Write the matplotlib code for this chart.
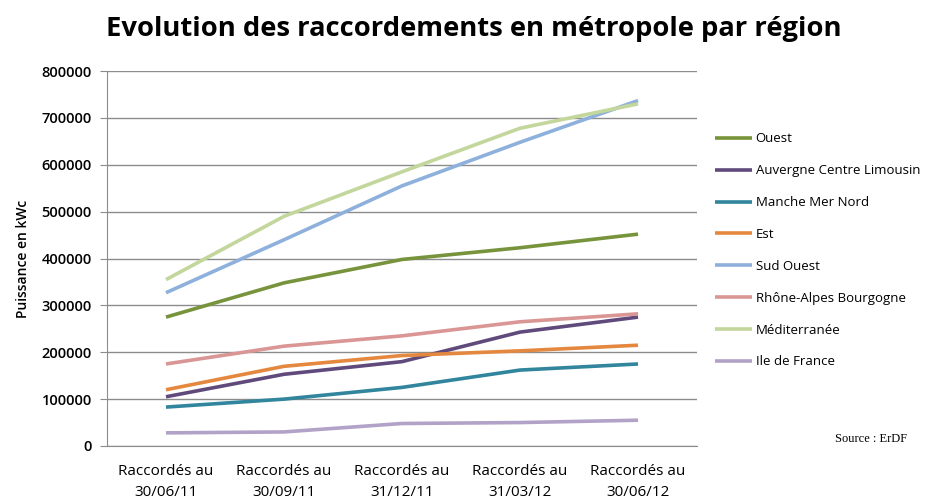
import matplotlib
matplotlib.use("Agg")
import matplotlib.pyplot as plt

categories = ["Raccordés au\n30/06/11", "Raccordés au\n30/09/11", "Raccordés au\n31/12/11",
              "Raccordés au\n31/03/12", "Raccordés au\n30/06/12"]
ouest = [275000, 348000, 398000, 423000, 452000]
auvergne = [105000, 153000, 180000, 243000, 275000]
manche = [83000, 100000, 125000, 162000, 175000]
est = [120000, 170000, 193000, 203000, 215000]
sud_ouest = [327000, 440000, 555000, 648000, 737000]
rhone = [175000, 213000, 235000, 265000, 282000]
mediterranee = [355000, 490000, 585000, 678000, 730000]
idf = [28000, 30000, 48000, 50000, 55000]

series = [
    ("Ouest", ouest, "#77933C"),
    ("Auvergne Centre Limousin", auvergne, "#604A7B"),
    ("Manche Mer Nord", manche, "#31859C"),
    ("Est", est, "#E5883F"),
    ("Sud Ouest", sud_ouest, "#8EB0DC"),
    ("Rhône-Alpes Bourgogne", rhone, "#D99694"),
    ("Méditerranée", mediterranee, "#C3D69B"),
    ("Ile de France", idf, "#B3A2C7"),
]

plt.rcParams['font.family'] = ['Open Sans', 'DejaVu Sans']
fig = plt.figure(figsize=(9.36, 5.01), dpi=100)
ax = fig.add_axes([0.1143, 0.1098, 0.6304, 0.7484])

x = list(range(len(categories)))
for name, vals, col in series:
    ax.plot(x, vals, color=col, linewidth=2.6, label=name, solid_capstyle='butt')

ax.set_xlim(-0.5, len(categories) - 0.5)
ax.set_ylim(0, 800000)
ax.set_yticks(range(0, 800001, 100000))
ax.set_yticklabels([str(v) for v in range(0, 800001, 100000)], fontsize=10.5, fontweight='semibold')
ax.set_xticks(x)
ax.set_xticklabels(categories, fontsize=11, fontweight='normal', linespacing=1.5)
ax.grid(axis='y', color='#8c8c8c', linewidth=1)
ax.set_axisbelow(True)
for s in ['top', 'right']:
    ax.spines[s].set_visible(False)
for s in ['left', 'bottom']:
    ax.spines[s].set_color('#8c8c8c')
ax.tick_params(axis='y', length=5, color='#8c8c8c', pad=6)
ax.tick_params(axis='x', length=0, pad=13)
ax.set_ylabel("Puissance en kWc", fontsize=10, fontweight='semibold', labelpad=8)

fig.suptitle("Evolution des raccordements en métropole par région", x=0.506, y=0.968,
             fontsize=19.7, fontweight='bold')

leg = ax.legend(loc='upper left', bbox_to_anchor=(1.01, 0.868), frameon=False,
                fontsize=9.5, handlelength=2.8, handletextpad=0.3, labelspacing=1.43)

fig.text(0.892, 0.117, "Source : ErDF", family='Liberation Serif', fontsize=9, ha='left')

fig.savefig("out.png", dpi=100)
